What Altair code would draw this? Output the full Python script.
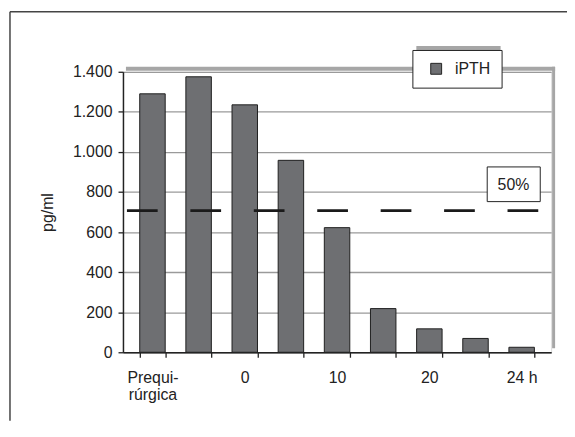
import json
import altair as alt
import pandas as pd

# ---- data ----
x_labels = ["Prequi-\nrúrgica", "", "0", "", "10", "", "20", "", "24 h"]
ipth_values = [1290, 1375, 1235, 958, 622, 218, 117, 69, 25]
series_name = "iPTH"
threshold_value = [707]
threshold_label = ["50%"]
y_tick_values = [0, 200, 400, 600, 800, 1000, 1200, 1400]
y_title = "pg/ml"

W, H = 432, 283
PAD_R, PAD_B = 16, 69
FONT = "Liberation Sans"
DARK = "#222222"
BAR = "#6e6f72"
SHADOW = "#a6a6a6"

df = pd.DataFrame({"idx": list(range(len(ipth_values))), "value": ipth_values,
                   "serie": [series_name] * len(ipth_values)})
thr = pd.DataFrame({"value": threshold_value})
lab = pd.DataFrame({"t": threshold_label})
one = pd.DataFrame({"a": [0]})

label_expr = json.dumps([s.split("\n") for s in x_labels], ensure_ascii=False) + "[datum.value]"

x_enc = alt.X(
    "idx:O",
    scale=alt.Scale(paddingInner=0.448, paddingOuter=0.363),
    axis=alt.Axis(title=None, labelAngle=0, labelExpr=label_expr, labelFont=FONT,
                  labelFontSize=16, labelColor=DARK, labelPadding=12, labelLineHeight=18,
                  labelOverlap=False, tickBand="extent", tickSize=5, tickColor=DARK,
                  tickWidth=1.3, domainColor=DARK, domainWidth=1.5, grid=False),
)
y_enc = alt.Y(
    "value:Q",
    scale=alt.Scale(domain=[0, 1400], nice=False),
    axis=alt.Axis(title=y_title, values=y_tick_values,
                  labelExpr="replace(format(datum.value, ','), ',', '.')",
                  labelFont=FONT, labelFontSize=16, labelColor=DARK, labelPadding=6,
                  tickSize=5, tickColor=DARK, tickWidth=1.3, domainColor=DARK, domainWidth=1.5,
                  grid=True, gridColor="#9a9a9a", gridWidth=1.3,
                  titleFont=FONT, titleFontSize=16, titleFontWeight="normal",
                  titleColor=DARK, titlePadding=17),
)

# plot-frame shadow (decoration)
frame_top = alt.Chart(one).mark_rect(color=SHADOW).encode(
    x=alt.value(3), x2=alt.value(W + 4), y=alt.value(-5), y2=alt.value(-1))
frame_right = alt.Chart(one).mark_rect(color=SHADOW).encode(
    x=alt.value(W + 1), x2=alt.value(W + 4), y=alt.value(-5), y2=alt.value(H - 4))
legend_shadow = alt.Chart(one).mark_rect(color=SHADOW).encode(
    x=alt.value(296), x2=alt.value(381), y=alt.value(-26), y2=alt.value(15))

bars = alt.Chart(df).mark_bar(stroke="#1e1e1e", strokeWidth=1).encode(
    x=x_enc, y=y_enc,
    color=alt.Color("serie:N", scale=alt.Scale(range=[BAR]),
                    legend=alt.Legend(title=None, orient="none", legendX=292, legendY=-22,
                                      padding=11, symbolOffset=5, labelOffset=11,
                                      symbolType="square", symbolSize=121,
                                      symbolStrokeColor=DARK, symbolStrokeWidth=1,
                                      labelFont=FONT, labelFontSize=16, labelColor=DARK,
                                      fillColor="white", strokeColor=DARK)),
)

rule = alt.Chart(thr).mark_rule(color="#1a1a1a", strokeWidth=2.6, strokeDash=[31, 33],
                                strokeDashOffset=51).encode(y="value:Q")

box = alt.Chart(one).mark_rect(fill="white", stroke=DARK, strokeWidth=1).encode(
    x=alt.value(367.5), x2=alt.value(421), y=alt.value(96), y2=alt.value(131))
box_text = alt.Chart(lab).mark_text(font=FONT, fontSize=16, color=DARK, align="center",
                                    baseline="middle").encode(
    text="t:N", x=alt.value(394), y=alt.value(114))

# outer frame: only top and left edges are visible in the reference
outer_top = alt.Chart(one).mark_rule(color="#444444", strokeWidth=1.5).encode(
    x=alt.value(-114), x2=alt.value(W + PAD_R), y=alt.value(-60.5))
outer_left = alt.Chart(one).mark_rule(color="#444444", strokeWidth=1.5).encode(
    x=alt.value(-114), y=alt.value(-60.5), y2=alt.value(H + PAD_B))

chart = alt.layer(frame_top, frame_right, legend_shadow, bars, rule, box, box_text,
                  outer_top, outer_left).properties(
    width=W, height=H,
    autosize=alt.AutoSizeParams(type="none"),
    padding={"left": 116, "top": 62.5, "right": PAD_R, "bottom": PAD_B},
).configure_view(stroke=DARK, strokeWidth=1.3).configure(background="white")

chart.save("out.html", embed_options={"renderer": "svg", "actions": False})
